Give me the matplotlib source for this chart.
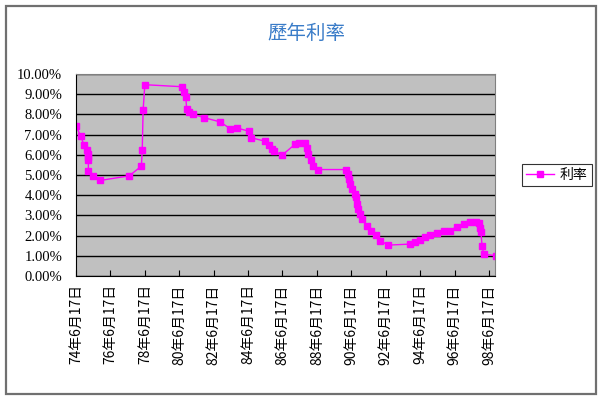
import matplotlib
matplotlib.use("Agg")
import matplotlib.pyplot as plt
from matplotlib.patches import Rectangle
from matplotlib.ticker import FuncFormatter

plt.rcParams["font.family"] = ["Noto Sans CJK TC", "DejaVu Sans"]

# date axis in ROC years (74 = 74年6月17日)
year = [74.0, 74.27, 74.47, 74.62, 74.72, 74.72, 74.72, 74.72, 75.0, 75.4,
        77.1, 77.8, 77.85, 77.9, 78.0,
        80.16, 80.28, 80.38, 80.43, 80.57, 80.82, 81.44, 82.37, 82.95, 83.34,
        84.08, 84.16, 85.0, 85.24, 85.41, 85.5, 86.0, 86.73, 86.97, 87.31,
        87.41, 87.5, 87.64, 87.8, 88.09,
        89.7, 89.78, 89.84, 89.93, 90.03, 90.22, 90.28, 90.32, 90.41, 90.51,
        90.61, 90.9, 91.13, 91.44, 91.67, 92.16,
        93.42, 93.71, 94.0, 94.3, 94.58, 94.97, 95.36, 95.74, 96.13, 96.52,
        96.9, 97.26, 97.4, 97.5, 97.53, 97.6, 97.69, 98.4]
rate = [7.43, 6.93, 6.47, 6.25, 6.05, 5.89, 5.72, 5.22, 4.94, 4.73,
        4.96, 5.44, 6.22, 8.21, 9.47,
        9.37, 9.12, 8.87, 8.29, 8.13, 8.01, 7.84, 7.63, 7.30, 7.33,
        7.16, 6.85, 6.67, 6.47, 6.30, 6.17, 6.00, 6.52, 6.58, 6.58,
        6.35, 6.05, 5.72, 5.47, 5.27,
        5.27, 5.06, 4.81, 4.56, 4.31, 4.06, 3.90, 3.57, 3.32, 3.07,
        2.82, 2.49, 2.24, 2.04, 1.74, 1.53,
        1.58, 1.66, 1.79, 1.91, 2.01, 2.12, 2.21, 2.24, 2.45, 2.57,
        2.65, 2.69, 2.62, 2.40, 2.16, 1.49, 1.08, 1.00]
tick_years = list(range(74, 99, 2))
tick_labels = [f"{y}年6月17日" for y in tick_years]

fig = plt.figure(figsize=(6.0, 3.97), dpi=100)
fig.patches.append(Rectangle((6 / 600, 3 / 397), 590 / 600, 388 / 397,
                             transform=fig.transFigure, fill=False,
                             edgecolor="#707070", linewidth=1.6))

ax = fig.add_axes([76 / 600, 121 / 397, 419 / 600, 202 / 397])
ax.set_facecolor("#c0c0c0")
ax.plot(year, rate, color="#ff00ff", linewidth=1, marker="s",
        markersize=5, label="利率")

ax.set_xlim(74.0, 98.35)
ax.set_ylim(0, 10)
ax.set_yticks(range(0, 11))
ax.yaxis.set_major_formatter(FuncFormatter(lambda v, p: f"{v:.2f}%"))
ax.set_xticks(tick_years)
ax.set_xticklabels(tick_labels, rotation=90, fontsize=10)
for lab in ax.get_yticklabels():
    lab.set_fontfamily("Liberation Serif")
    lab.set_fontsize(10.5)
ax.grid(axis="y", color="black", linewidth=1)
ax.set_axisbelow(True)
ax.tick_params(axis="y", length=0, pad=10)
ax.tick_params(axis="x", length=4, direction="in", pad=6)
for s in ["top", "right"]:
    ax.spines[s].set_color("#808080")
ax.spines["left"].set_color("black")
ax.spines["bottom"].set_color("black")

fig.text(306 / 600, 1 - 33 / 397, "歷年利率", ha="center", va="center",
         fontsize=14, color="#3a7cc8")

leg = fig.legend(loc="center", bbox_to_anchor=(557 / 600, 1 - 175 / 397),
                 fontsize=10, frameon=True, fancybox=False,
                 handlelength=2.0, borderpad=0.3, handletextpad=0.4)
leg.get_frame().set_edgecolor("black")
leg.get_frame().set_linewidth(0.8)

fig.savefig("out.png", dpi=100)
